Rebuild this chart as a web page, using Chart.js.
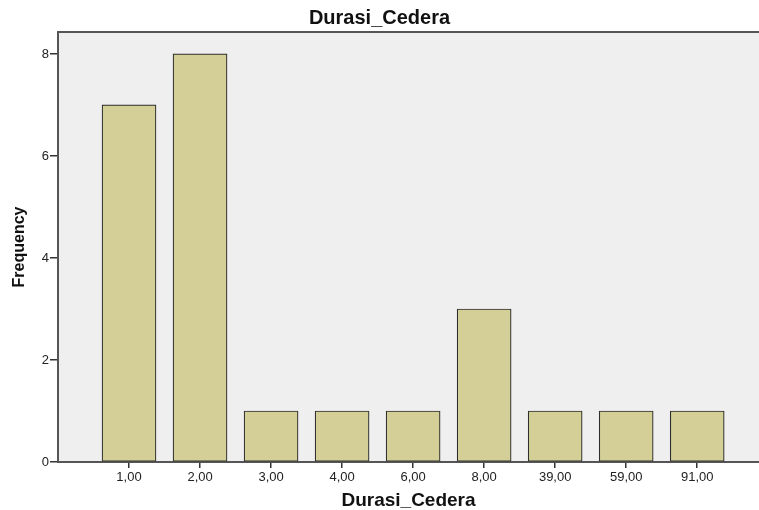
<!DOCTYPE html>
<html>
<head>
<meta charset="utf-8">
<script src="https://cdn.jsdelivr.net/npm/chart.js@4.4.0/dist/chart.umd.min.js"></script>
<style>
  html, body { margin: 0; padding: 0; background: #ffffff; }
  #wrap { width: 759px; height: 510px; }
</style>
</head>
<body>
<div id="wrap"><canvas id="durasiChart" width="759" height="510"></canvas></div>
<script>
// Data
const categories = ['1,00', '2,00', '3,00', '4,00', '6,00', '8,00', '39,00', '59,00', '91,00'];
const frequencies = [7, 8, 1, 1, 1, 3, 1, 1, 1];
const yTicks = [0, 2, 4, 6, 8];

const FONT = "'Liberation Sans', Arial, sans-serif";

// Plot background + top border
const plotBackground = {
  id: 'plotBackground',
  beforeDraw(chart) {
    const { ctx, chartArea } = chart;
    ctx.save();
    ctx.fillStyle = '#efefef';
    ctx.fillRect(chartArea.left, chartArea.top, chartArea.right - chartArea.left, chartArea.bottom - chartArea.top);
    ctx.strokeStyle = '#555555';
    ctx.lineWidth = 2;
    ctx.beginPath();
    ctx.moveTo(chartArea.left, chartArea.top);
    ctx.lineTo(chartArea.right, chartArea.top);
    ctx.stroke();
    ctx.restore();
  }
};

const ctx = document.getElementById('durasiChart').getContext('2d');
new Chart(ctx, {
  type: 'bar',
  data: {
    datasets: [{
      label: 'Frequency',
      data: frequencies.map((v, i) => ({ x: i + 1, y: v })),
      backgroundColor: '#d3cf97',
      borderColor: '#2e2e2e',
      borderWidth: 1.2,
      borderSkipped: false,
      barThickness: 54
    }]
  },
  options: {
    responsive: false,
    animation: false,
    layout: { padding: 0 },
    plugins: {
      legend: { display: false },
      tooltip: { enabled: false },
      title: {
        display: true,
        text: 'Durasi_Cedera',
        color: '#111111',
        font: { family: FONT, size: 20, weight: 'bold', lineHeight: 1.2 },
        padding: { top: 6, bottom: 2 }
      }
    },
    scales: {
      x: {
        type: 'linear',
        offset: false,
        min: 0,
        max: 9.87,
        afterBuildTicks: (scale) => { scale.ticks = categories.map((c, i) => ({ value: i + 1 })); },
        afterFit: (scale) => { scale.height = 48; },
        ticks: {
          color: '#222222',
          font: { family: FONT, size: 13 },
          padding: 2,
          maxRotation: 0,
          autoSkip: false,
          callback: (v) => categories[v - 1] || ''
        },
        grid: { offset: false, drawOnChartArea: false, drawTicks: true, tickLength: 6, color: '#333333', lineWidth: 1.5 },
        border: { display: true, color: '#555555', width: 2 },
        title: {
          display: true,
          text: 'Durasi_Cedera',
          color: '#111111',
          font: { family: FONT, size: 19, weight: 'bold', lineHeight: 1 },
          padding: { top: 0, bottom: 0 }
        }
      },
      y: {
        min: 0,
        max: 8.43,
        afterBuildTicks: (scale) => { scale.ticks = yTicks.map(v => ({ value: v })); },
        afterFit: (scale) => { scale.width = 58; },
        ticks: {
          color: '#222222',
          font: { family: FONT, size: 13 },
          padding: 1
        },
        grid: { drawOnChartArea: false, drawTicks: true, tickLength: 8, color: '#333333', lineWidth: 1.5 },
        border: { display: true, color: '#555555', width: 2 },
        title: {
          display: true,
          text: 'Frequency',
          color: '#111111',
          font: { family: FONT, size: 16, weight: 'bold' },
          padding: { top: 10, bottom: 0 }
        }
      }
    }
  },
  plugins: [plotBackground]
});
</script>
</body>
</html>
